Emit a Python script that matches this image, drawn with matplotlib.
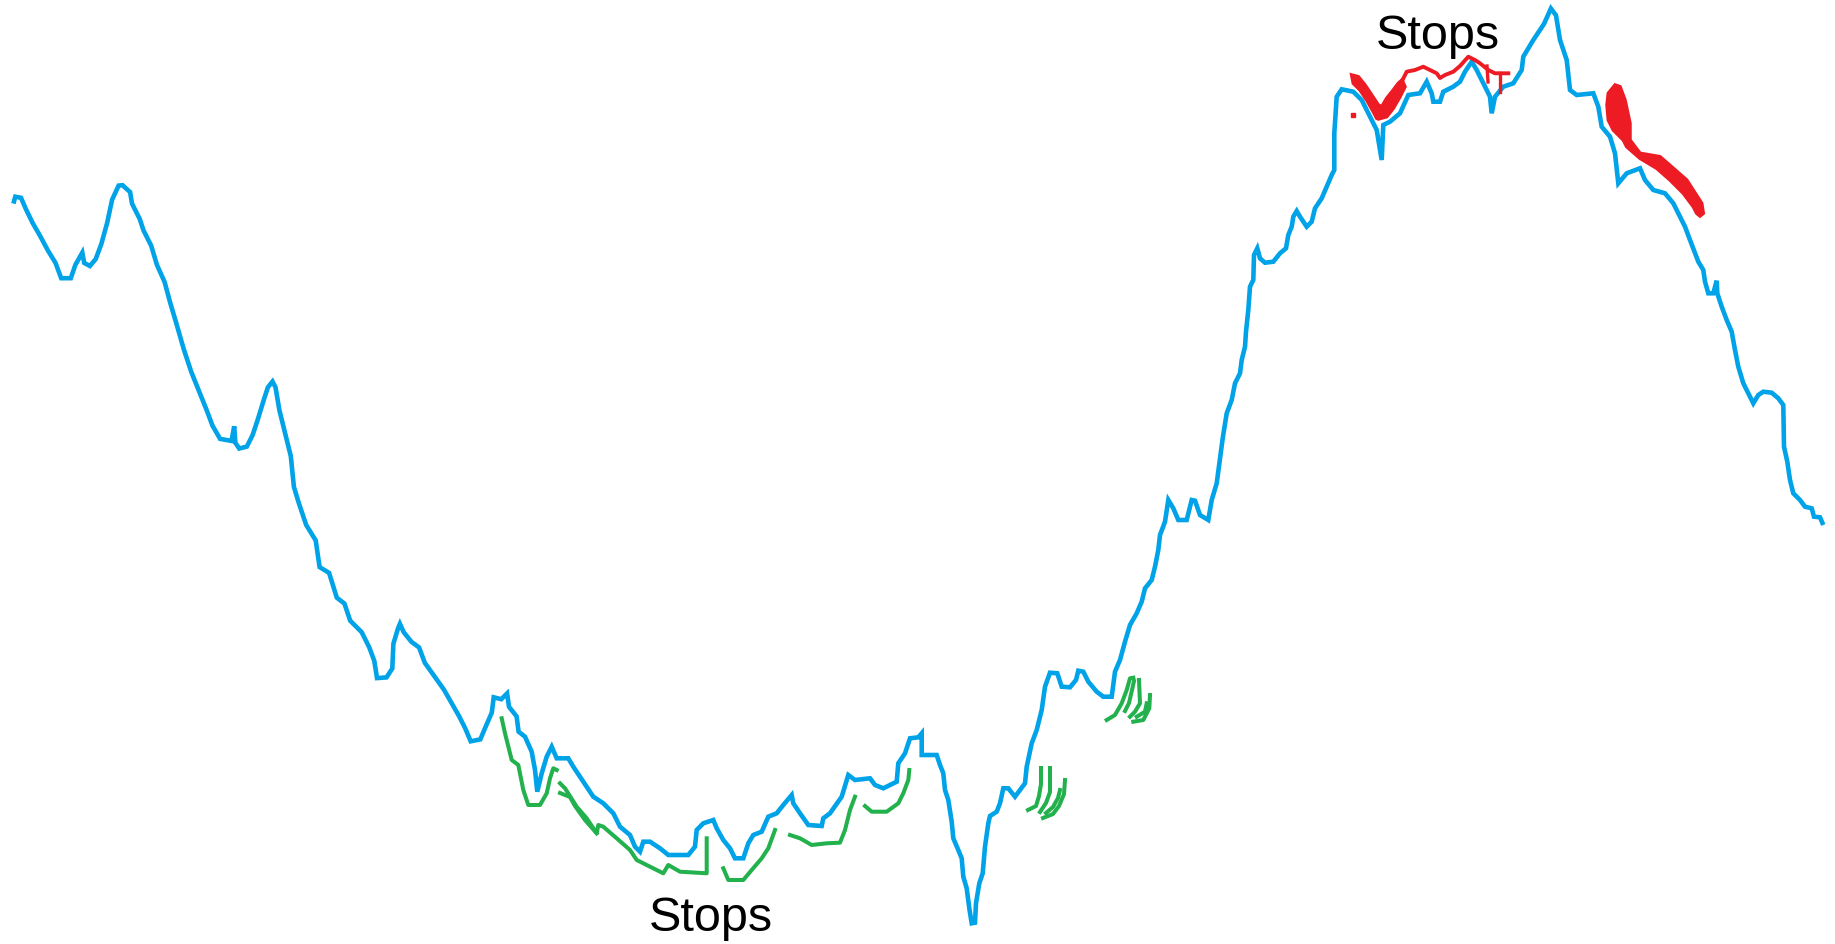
import matplotlib
matplotlib.use("Agg")
import matplotlib.pyplot as plt

# ---- data (pixel-space readings from the picture; y grows downward) ----
blue_x = [13.4, 15.3, 21.0, 26.0, 32.5, 40.2, 47.8, 55.5, 61.2, 70.8, 75.4, 82.3, 84.2, 89.9, 95.7,
          101.4, 107.2, 112.1, 118.6, 122.5, 130.1, 132.0, 139.7, 143.5, 151.2, 156.9, 164.6, 170.3,
          176.0, 183.7, 191.3, 199.0, 206.7, 212.4, 220.1, 231.5, 234.2, 235.4, 239.2, 246.8, 252.6,
          258.3, 264.1, 267.9, 272.5, 275.5, 279.4, 285.1, 290.8, 293.9, 298.5, 306.2, 315.7, 319.6,
          329.1, 336.8, 344.4, 350.2, 361.7, 369.3, 374.3, 377.0, 386.5, 392.3, 393.4, 398.0, 399.9,
          403.7, 411.4, 419.1, 424.8, 434.4, 443.9, 451.6, 459.2, 465.0, 470.7, 480.3, 486.0, 491.8,
          493.7, 501.3, 507.1, 509.0, 516.6, 518.6, 525.0,
          531.7, 535.0, 537.3, 541.7, 546.7, 551.7, 556.7, 568.3, 573.3, 583.3, 593.3, 603.3, 613.3,
          620.0, 630.0, 635.0, 640.0, 643.3, 650.0, 660.0, 668.3, 688.3, 695.0, 696.7, 703.3, 713.3,
          716.7, 723.3, 730.0, 735.0, 743.3, 748.3, 753.3, 761.7, 768.3, 776.7, 783.3, 791.7, 793.3,
          800.0, 808.3, 821.7, 823.3, 830.0, 841.7, 848.3, 855.0, 870.0, 875.0, 883.3, 896.7, 898.3,
          905.0, 910.0, 918.3, 921.7, 921.7, 936.7,
          940.0, 943.3, 945.0, 948.3, 951.7, 953.3, 958.3, 961.7, 963.3, 966.7, 969.3, 971.7, 975.0,
          976.0, 979.3, 982.7, 985.0, 988.3, 990.0, 996.7, 1000.0, 1003.3, 1008.3, 1015.0, 1020.0,
          1025.0, 1026.7, 1031.7, 1036.7, 1041.7, 1045.0, 1050.0, 1057.3, 1061.7, 1070.0, 1076.0,
          1078.3, 1083.3, 1088.3, 1096.7, 1103.3, 1111.7, 1115.0, 1120.0, 1125.0, 1130.0, 1136.7,
          1141.7, 1145.0, 1151.7, 1155.0, 1158.3, 1160.0, 1165.0, 1168.3, 1173.3, 1178.3, 1186.7,
          1191.7, 1195.0, 1200.0, 1208.3, 1211.7, 1216.7,
          1220.0, 1222.7, 1226.7, 1231.7, 1235.0, 1240.0, 1241.7, 1245.0, 1246.0, 1248.3, 1250.0,
          1253.3, 1254.0, 1257.3, 1260.0, 1265.0, 1273.3, 1280.0, 1286.0, 1288.3, 1291.7, 1293.3,
          1296.7, 1300.0, 1306.7, 1311.7, 1315.0, 1321.7, 1326.7, 1331.7, 1334.3, 1334.3, 1336.7,
          1341.7,
          1353.3, 1361.7, 1371.7, 1376.7, 1381.7, 1383.3, 1390.0, 1400.0, 1408.3, 1420.0, 1426.7,
          1431.7, 1433.3, 1440.0, 1443.3, 1453.3, 1460.0, 1465.0, 1471.7, 1476.7, 1483.3, 1490.0,
          1491.7, 1495.0, 1503.3, 1513.3, 1521.7, 1523.3, 1533.3,
          1544.0, 1550.9, 1556.0, 1560.0, 1566.7, 1570.0, 1576.7, 1593.3, 1598.3, 1601.7, 1610.0,
          1615.0, 1618.3, 1626.7, 1640.0, 1645.0, 1653.3, 1665.0, 1673.3, 1680.0, 1685.0, 1690.0,
          1698.3, 1703.3, 1705.0, 1708.3, 1713.3, 1716.7, 1717.3, 1721.7, 1726.7, 1731.7, 1735.0,
          1738.3, 1743.3, 1748.3, 1753.3, 1758.3, 1763.3, 1771.7, 1778.3, 1783.3, 1784.0, 1787.3,
          1790.0, 1793.3, 1800.0, 1805.0, 1811.7, 1814.0, 1820.0, 1823.3]
blue_y = [203.6, 196.7, 197.8, 209.3, 222.7, 236.1, 250.3, 262.9, 278.2, 278.2, 264.8, 252.6, 262.9,
          266.0, 259.1, 243.8, 222.7, 199.7, 185.6, 185.2, 192.1, 203.6, 218.9, 230.4, 245.7, 264.8,
          282.0, 303.1, 322.2, 349.0, 372.0, 391.1, 410.2, 425.5, 438.9, 440.9, 426.3, 442.8, 448.5,
          446.6, 435.1, 417.9, 398.8, 387.3, 381.5, 387.3, 410.2, 433.2, 456.2, 486.8, 502.1, 525.0,
          540.4, 567.1, 572.9, 597.7, 603.5, 620.7, 632.2, 647.5, 660.9, 678.1, 677.4, 668.5, 643.7,
          628.4, 623.8, 632.2, 641.8, 647.5, 662.8, 676.2, 689.6, 703.0, 716.4, 727.9, 741.3, 739.4,
          725.9, 712.6, 697.3, 699.2, 693.4, 706.8, 716.4, 731.7, 736.7,
          751.7, 770.0, 791.7, 773.3, 756.7, 746.7, 758.3, 758.3, 766.7, 781.7, 796.7, 803.3, 813.3,
          826.7, 835.0, 846.7, 851.7, 841.7, 841.7, 848.3, 855.0, 855.0, 846.7, 830.0, 823.3, 820.0,
          828.3, 840.0, 848.3, 858.3, 858.3, 843.3, 835.0, 831.7, 816.7, 813.3, 805.0, 795.0, 803.3,
          813.3, 825.0, 826.0, 818.3, 813.3, 796.7, 775.0, 780.0, 778.3, 785.0, 788.3, 781.7, 763.3,
          753.3, 738.3, 737.3, 733.3, 755.0, 755.0,
          765.0, 773.3, 790.0, 800.0, 821.7, 838.3, 850.0, 858.3, 876.7, 888.3, 908.3, 923.3, 922.7,
          903.3, 883.3, 873.3, 846.7, 823.3, 816.0, 811.7, 803.3, 788.3, 788.3, 796.7, 790.0,
          783.3, 766.7, 743.3, 730.0, 710.0, 686.7, 672.7, 673.3, 686.7, 687.3, 680.0,
          670.7, 671.7, 681.7, 691.7, 696.7, 696.7, 671.7, 660.0, 641.7, 625.0, 613.3,
          601.7, 588.3, 580.0, 566.7, 550.0, 535.0, 521.7, 500.0, 508.3, 520.0, 520.0,
          500.0, 500.7, 515.0, 520.0, 500.0, 483.3,
          458.3, 438.3, 413.3, 400.0, 383.3, 373.3, 360.0, 346.7, 331.7, 310.0, 286.7,
          280.0, 255.0, 248.3, 258.3, 262.7, 261.7, 253.3, 248.3, 235.0, 226.7, 216.7,
          211.0, 216.7, 226.7, 221.7, 208.3, 198.3, 186.7, 175.0, 170.0, 133.3, 96.7,
          89.3,
          91.7, 100.0, 120.0, 130.0, 160.0, 125.0, 121.7, 113.3, 95.0, 93.3, 81.7,
          93.3, 101.7, 101.7, 91.7, 86.7, 81.7, 71.7, 61.7, 70.0, 83.3, 96.7,
          113.3, 96.7, 86.7, 83.3, 70.0, 56.7, 40.0,
          23.9, 8.5, 15.4, 40.0, 60.0, 90.0, 95.0, 93.3, 106.7, 126.7, 136.7,
          153.3, 183.3, 173.3, 168.3, 180.0, 190.0, 193.3, 203.3, 216.7, 226.7, 240.0,
          261.7, 270.0, 281.7, 293.3, 293.3, 280.7, 293.3, 306.7, 320.0, 331.7, 350.0,
          366.7, 383.3, 393.3, 403.3, 395.0, 391.7, 392.7, 398.3, 405.0, 446.7, 461.7,
          480.0, 493.3, 500.0, 506.7, 508.3, 516.7, 517.3, 525.0]

# green trailing stops (long-side), one list of (x, y) per stroke
green_strokes = [
    [(501.7, 718.3), (505, 733.3), (511.7, 760), (518.3, 765), (523.3, 790), (528.3, 805),
     (540, 805), (546.7, 793.3), (550, 778.3), (553.3, 768.3), (556.7, 770)],
    [(560, 783.3), (565, 788.3), (576.7, 806.7), (586.7, 818.3), (596.7, 833.3), (598.3, 825),
     (603.3, 826.7), (616.7, 838.3), (630, 850), (636.7, 860), (650, 866.7), (663.3, 873.3),
     (668.3, 865), (680, 871.7), (706.7, 873.3), (706.7, 838.3)],
    [(560, 793), (570, 797), (575, 806), (585, 820), (596.7, 833.3)],
    [(723.3, 868.3), (728.3, 880), (743.3, 880), (751.7, 870), (761.7, 858.3), (768.3, 848.3),
     (775, 830)],
    [(790, 835), (800, 838.3), (811.7, 845), (826.7, 843.3), (840, 842.7), (845, 830), (850, 810),
     (855, 796.7)],
    [(865, 806), (871.7, 811.7), (886.7, 811.7), (898.3, 803.3), (903.3, 793.3), (908.3, 780),
     (909.3, 770)],
    [(1028, 810), (1036, 806), (1039, 796), (1041, 784), (1041, 768)],
    [(1040, 812), (1046, 803), (1050, 792), (1050, 768)],
    [(1043, 818), (1053, 814), (1059, 806), (1064, 794), (1065, 780)],
    [(1046, 813), (1053, 807), (1058, 798), (1060, 790)],
    [(1106.7, 720), (1115, 715), (1121.7, 703.3), (1126.7, 690), (1130, 678.3), (1133.3, 677.7)],
    [(1125, 711), (1129, 703), (1132, 690), (1134, 681)],
    [(1130, 716.7), (1135, 711.7), (1140, 703.3), (1139, 680)],
    [(1133.3, 721.7), (1143.3, 720), (1149.3, 708.3), (1150, 695)],
    [(1136.7, 716.7), (1145, 711.7), (1146.7, 703.3)],
]

# red trailing stops (short-side)
red_v_x = [1351.7, 1358.3, 1365.0, 1371.7, 1378.3, 1381.7, 1386.7, 1393.3, 1398.3, 1402.0, 1405.0,
           1400.0, 1393.3, 1386.7, 1378.3, 1376.7, 1373.3, 1366.7, 1360.0, 1353.3]
red_v_y = [75.0, 76.7, 85.0, 95.0, 105.0, 106.7, 98.3, 90.0, 83.3, 80.0, 86.7,
           96.7, 108.3, 116.7, 119.0, 118.3, 111.7, 100.0, 90.0, 83.3]
red_line_x = [1395, 1400, 1406.7, 1415, 1423.3, 1430, 1436.7, 1440, 1445, 1453.3, 1460, 1468.3,
              1475, 1480, 1488.3, 1495, 1500, 1508.3]
red_line_y = [91.7, 85, 71.7, 70, 66.7, 70, 73.3, 78, 75, 71.7, 66, 56.7,
              60, 63.3, 70, 73.3, 73.3, 73.3]
red_tick_x = [1500, 1500]
red_tick_y = [73.3, 92]
red_tick2_x = [1487, 1488]
red_tick2_y = [66, 82]
red_dot = (1353.3, 115)
red_blob_x = [1615, 1620, 1625, 1630, 1630, 1640, 1660, 1673.3, 1686.7, 1701.7, 1703.3, 1700,
              1696.7, 1693.3, 1683.3, 1670, 1656.7, 1640, 1626.7, 1623.3, 1613.3, 1608.3, 1607, 1608.3]
red_blob_y = [85, 86.7, 100, 123.3, 140, 153.3, 156.7, 168.3, 180, 203.3, 213.3, 216,
              213.3, 206.7, 193.3, 180, 168.3, 158.3, 146.7, 140, 130, 120, 105, 93.3]

labels = [("Stops", 711, 931), ("Stops", 1438, 49)]

BLUE = "#00A2E8"
GREEN = "#22B14C"
RED = "#ED1C24"

fig = plt.figure(figsize=(18.35, 9.44), dpi=100)
ax = fig.add_axes([0, 0, 1, 1])
ax.set_xlim(0, 1835)
ax.set_ylim(944, 0)
ax.axis("off")

ax.plot(blue_x, blue_y, color=BLUE, lw=3.3, solid_joinstyle="miter", solid_capstyle="butt", zorder=2)

for s in green_strokes:
    xs, ys = zip(*s)
    ax.plot(xs, ys, color=GREEN, lw=2.9, solid_joinstyle="round", zorder=3)

ax.fill(red_v_x, red_v_y, color=RED, lw=2.5, ec=RED, zorder=4)
ax.plot(red_line_x, red_line_y, color=RED, lw=2.8, zorder=4)
ax.plot(red_tick_x, red_tick_y, color=RED, lw=2.4, zorder=4)
ax.plot(red_tick2_x, red_tick2_y, color=RED, lw=2.4, zorder=4)
ax.plot([red_dot[0]], [red_dot[1]], "s", color=RED, ms=3, zorder=4)
ax.fill(red_blob_x, red_blob_y, color=RED, lw=2.5, ec=RED, zorder=4)

for txt, x, y in labels:
    ax.text(x, y, txt, ha="center", va="baseline", fontsize=35,
            family=["Liberation Sans", "DejaVu Sans"], color="black", zorder=5)

fig.savefig("out.png", dpi=100, facecolor="white")
